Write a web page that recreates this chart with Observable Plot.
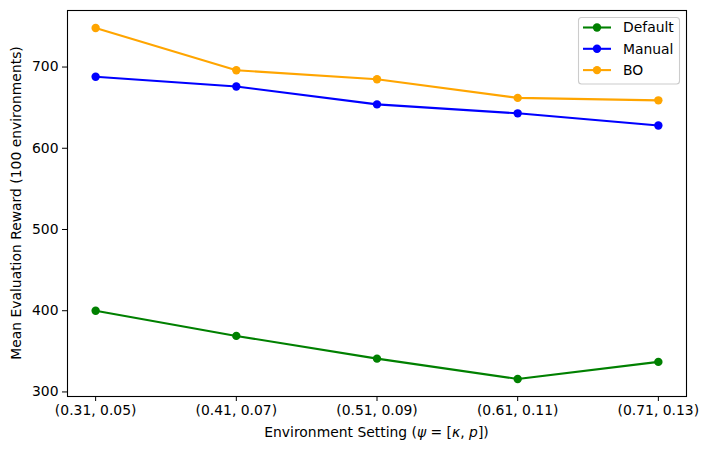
<!DOCTYPE html>
<html><head><meta charset="utf-8">
<script src="https://cdn.jsdelivr.net/npm/d3@7"></script>
<script src="https://cdn.jsdelivr.net/npm/@observablehq/plot@0.6"></script>
<style>
body{margin:0;background:#fff;}
#chart{position:relative;width:708px;height:452px;}
</style></head><body>
<div id="chart"></div>
<script>
const settings = ["(0.31, 0.05)", "(0.41, 0.07)", "(0.51, 0.09)", "(0.61, 0.11)", "(0.71, 0.13)"];
const defaultVals = [400, 369, 341, 316, 337];
const manualVals = [688, 676, 654, 643, 628];
const boVals = [748, 696, 685, 662, 659];
const seriesNames = ["Default", "Manual", "BO"];
const seriesColors = ["green", "blue", "orange"];
const yTicks = [300, 400, 500, 600, 700];

const allVals = [defaultVals, manualVals, boVals];
const rows = [];
seriesNames.forEach((s, k) => allVals[k].forEach((v, i) => rows.push({series: s, i, v})));

const font = "DejaVu Sans, sans-serif";
const fs = 13.9;

const plot = Plot.plot({
  width: 708, height: 452,
  marginLeft: 67, marginRight: 22, marginTop: 10, marginBottom: 56,
  style: {fontFamily: font, fontSize: fs + "px", color: "black", background: "white"},
  x: {type: "linear", domain: [-0.2, 4.2]},
  y: {domain: [294.4, 769.6]},
  color: {domain: seriesNames, range: seriesColors},
  marks: [
    Plot.line(rows, {x: "i", y: "v", z: "series", stroke: "series", strokeWidth: 2.08}),
    Plot.dot(rows, {x: "i", y: "v", fill: "series", r: 4.2, stroke: null}),
    Plot.frame({stroke: "black", strokeWidth: 1.1}),
    Plot.axisX({ticks: d3.range(settings.length), tickFormat: i => settings[i], tickSize: 5, tickPadding: 4, label: null, fontSize: fs}),
    Plot.axisY({ticks: yTicks, tickSize: 5, tickPadding: 4, label: null, fontSize: fs})
  ]
});
document.getElementById("chart").appendChild(plot);

const svg = d3.select(plot);
// x label
const xl = svg.append("text").attr("x", 376.5).attr("y", 437).attr("text-anchor", "middle")
  .attr("font-family", font).attr("font-size", fs).attr("fill", "black");
xl.append("tspan").text("Environment Setting (");
xl.append("tspan").attr("font-style", "italic").text("ψ");
xl.append("tspan").text(" = [");
xl.append("tspan").attr("font-style", "italic").text("κ");
xl.append("tspan").text(", ");
xl.append("tspan").attr("font-style", "italic").text("p");
xl.append("tspan").text("])");
// y label
svg.append("text").attr("transform", "translate(21,203) rotate(-90)").attr("text-anchor", "middle")
  .attr("font-family", font).attr("font-size", fs).attr("fill", "black")
  .text("Mean Evaluation Reward (100 environments)");

// legend
const lg = svg.append("g").attr("text-anchor", "start");
lg.append("rect").attr("x", 578.5).attr("y", 17.5).attr("width", 101).attr("height", 66.5).attr("rx", 3)
  .attr("fill", "white").attr("fill-opacity", 0.8).attr("stroke", "#cccccc").attr("stroke-width", 1.1);
seriesNames.forEach((s, k) => {
  const y = 27.5 + k * 21.3;
  lg.append("line").attr("x1", 583).attr("x2", 611).attr("y1", y).attr("y2", y)
    .attr("stroke", seriesColors[k]).attr("stroke-width", 2.08);
  lg.append("circle").attr("cx", 597).attr("cy", y).attr("r", 4.2).attr("fill", seriesColors[k]);
  lg.append("text").attr("x", 623).attr("y", y).attr("dy", "0.35em").attr("text-anchor", "start")
    .attr("font-family", font).attr("font-size", fs).attr("fill", "black").text(s);
});
</script>
</body></html>
